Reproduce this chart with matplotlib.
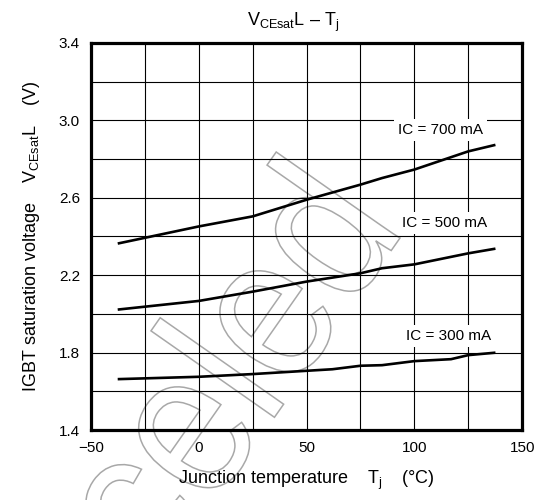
import matplotlib
matplotlib.use('Agg')
import numpy as np
import matplotlib.pyplot as plt
from matplotlib.ticker import MultipleLocator
from matplotlib.textpath import TextPath
from matplotlib.font_manager import FontProperties
from matplotlib.patches import PathPatch
from matplotlib.transforms import Affine2D, IdentityTransform

plt.rcParams['font.family'] = ['Liberation Sans', 'DejaVu Sans']
plt.rcParams['mathtext.fontset'] = 'custom'
plt.rcParams['mathtext.rm'] = 'Liberation Sans'
plt.rcParams['mathtext.it'] = 'Liberation Sans:italic'

# data
temps = [-37, 0, 25, 50, 75, 85, 100, 125, 137]
v_700 = [2.365, 2.452, 2.504, 2.590, 2.668, 2.702, 2.746, 2.840, 2.872]
v_500 = [2.023, 2.067, 2.115, 2.167, 2.210, 2.236, 2.256, 2.313, 2.336]
temps_300 = [-37, 0, 25, 50, 62, 75, 85, 100, 117, 125, 137]
v_300 = [1.663, 1.675, 1.689, 1.706, 1.714, 1.732, 1.735, 1.756, 1.766, 1.787, 1.799]

labels = ['IC = 700 mA', 'IC = 500 mA', 'IC = 300 mA']
label_x = [112, 114, 116]
label_y = [2.95, 2.471, 1.886]

x_ticks = [-50, 0, 50, 100, 150]
x_ticklabels = ['\u221250', '0', '50', '100', '150']
y_ticks = [1.4, 1.8, 2.2, 2.6, 3.0, 3.4]
y_ticklabels = ['1.4', '1.8', '2.2', '2.6', '3.0', '3.4']

fig = plt.figure(figsize=(5.4, 5.0), dpi=100)
ax = fig.add_axes([0.1685, 0.14, 0.7985, 0.774])
ax.set_facecolor('none')

# watermark: outlined word, rotated, behind the axes
tp = TextPath((0, 0), 'Canceled', size=1, prop=FontProperties(family='Liberation Sans'))
xmax = tp.vertices[:, 0].max()
wm_tr = (Affine2D().translate(-xmax, 0).scale(182, 208).rotate_deg(55)
         .translate(400, 262))
wm = PathPatch(wm_tr.transform_path(tp), fc='none', ec='#a8a8a8', lw=1.1,
               transform=IdentityTransform(), zorder=-1)
fig.add_artist(wm)

ax.plot(temps, v_700, color='black', lw=1.9, zorder=3)
ax.plot(temps, v_500, color='black', lw=1.9, zorder=3)
ax.plot(temps_300, v_300, color='black', lw=1.9, zorder=3)

for lab, lx, ly in zip(labels, label_x, label_y):
    ax.text(lx, ly, lab, ha='center', va='center', fontsize=11, zorder=4,
            bbox=dict(boxstyle='square,pad=0.25', fc='white', ec='none'))

ax.set_xlim(-50, 150)
ax.set_ylim(1.4, 3.4)
ax.set_xticks(x_ticks)
ax.set_xticklabels(x_ticklabels)
ax.set_yticks(y_ticks)
ax.set_yticklabels(y_ticklabels)
ax.xaxis.set_minor_locator(MultipleLocator(25))
ax.yaxis.set_minor_locator(MultipleLocator(0.2))
ax.tick_params(which='both', length=0, labelsize=11, pad=8)
ax.grid(which='both', color='black', lw=0.8, zorder=1)
for s in ax.spines.values():
    s.set_linewidth(2.3)

ax.set_xlabel(r'Junction temperature    $\mathrm{T_j}$    (°C)', fontsize=13, labelpad=10)
ax.set_ylabel(r'IGBT saturation voltage    $\mathrm{V_{CEsat}L}$    (V)', fontsize=13, labelpad=12)
fig.text(293 / 540, 0.955, r'$\mathrm{V_{CEsat}L}$ – $\mathrm{T_j}$', ha='center', va='center', fontsize=13)

fig.savefig('out.png', dpi=100)
